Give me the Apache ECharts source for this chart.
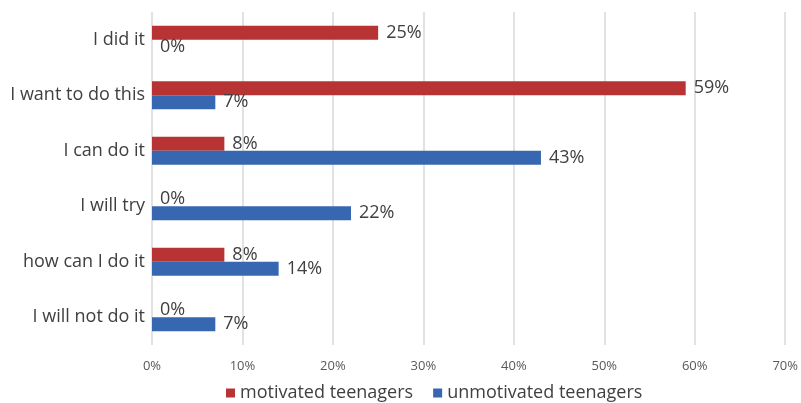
<!DOCTYPE html>
<html><head><meta charset="utf-8">
<script src="https://cdn.jsdelivr.net/npm/echarts@6/dist/echarts.min.js"></script>
<style>html,body{margin:0;padding:0;background:#fff}#c{width:801px;height:403px}</style>
</head><body><div id="c"></div>
<script>
const categories = ["I did it","I want to do this","I can do it","I will try","how can I do it","I will not do it"];
const motivated = [25,59,8,0,8,0];
const unmotivated = [0,7,43,22,14,7];
const xTicks = [0,10,20,30,40,50,60,70];
const seriesNames = ["motivated teenagers","unmotivated teenagers"];

const chart = echarts.init(document.getElementById('c'));
const font = "Open Sans";
const lbl = {show:true, position:'right', formatter:'{c}%', color:'#404040', fontSize:18, fontFamily:font, distance:8};
chart.setOption({
  animation:false,
  grid:{left:152, right:13, top:12, bottom:58},
  legend:{top:379, left:221, itemWidth:9, itemHeight:9, itemGap:20, icon:'rect',
    textStyle:{color:'#404040', fontSize:18, fontFamily:font}, data:seriesNames},
  xAxis:{type:'value', min:xTicks[0], max:xTicks[xTicks.length-1], interval:10,
    axisLabel:{formatter:'{value}%', color:'#595959', fontSize:13, fontFamily:font, margin:15},
    splitLine:{lineStyle:{color:'#d9d9d9', width:1.5}}, axisLine:{show:false}, axisTick:{show:false}},
  yAxis:{type:'category', data:categories, inverse:true,
    axisLabel:{color:'#404040', fontSize:18, fontFamily:font, margin:7},
    axisLine:{show:false}, axisTick:{show:false}},
  series:[
    {name:seriesNames[0], type:'bar', data:motivated, barWidth:14, barGap:'0%', itemStyle:{color:'#B83434'}, label:lbl},
    {name:seriesNames[1], type:'bar', data:unmotivated, barWidth:14, itemStyle:{color:'#3767B1'}, label:lbl}
  ]
});
</script></body></html>
